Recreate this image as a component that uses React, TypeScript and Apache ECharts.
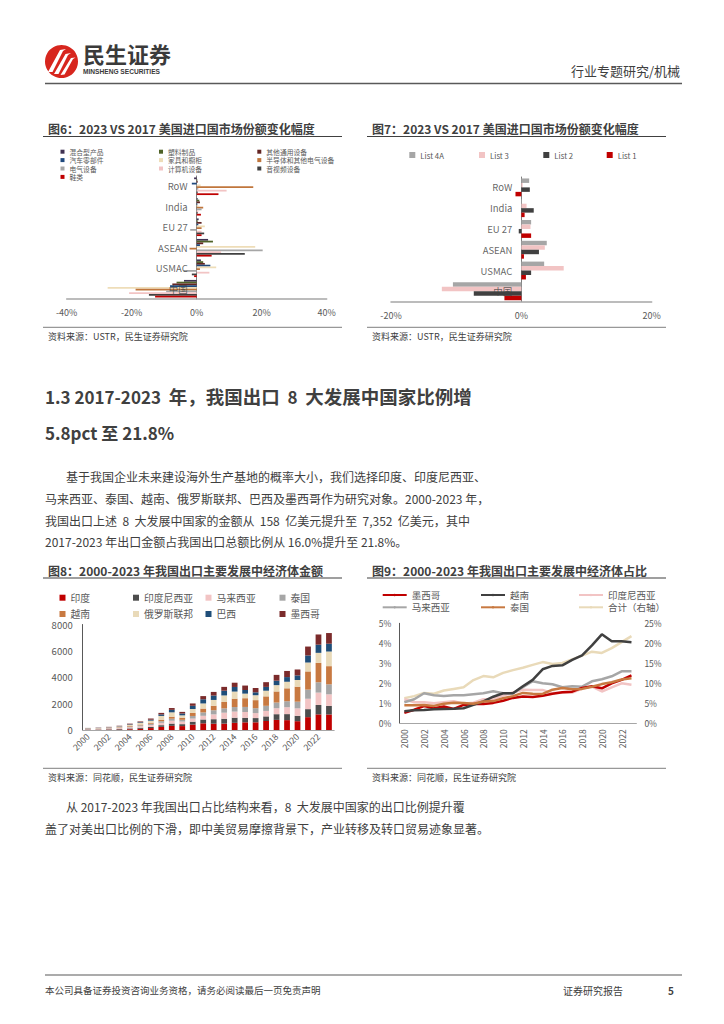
import React, { useEffect, useRef } from "react";
import * as echarts from "echarts";

const FONT = '"Noto Sans CJK SC", "Noto Sans", sans-serif';
const LATIN = '"Liberation Sans", Arial, sans-serif';

// ---------- Figure 6 ----------
const fig6Categories = ["RoW", "India", "EU 27", "ASEAN", "USMAC", "中国"];
const fig6Names = ["混合型产品", "塑料制品", "其他通用设备", "汽车零部件", "家具和橱柜", "半导体和其他电气设备", "电气设备", "计算机设备", "音视频设备", "鞋类"];
const fig6Colors = ["#3F3151", "#4F6228", "#632523", "#1F497D", "#EEDDB8", "#C0763C", "#A6A6A6", "#F2C4C4", "#404040", "#C00000"];
const mixedProducts = [-0.8, 0.3, 0.6, 3.5, 1.3, -3.9];
const plastics = [0.2, 0.8, 0.3, 5.0, 2.0, -6.2];
const otherMachinery = [0.3, 1.0, 1.5, 2.0, 2.5, -7.5];
const autoParts = [-1.5, 0.2, 0.5, 1.0, 4.2, -8.2];
const furniture = [1.2, 0.5, 2.5, 18.0, 6.0, -27.4];
const semiconductors = [17.4, 2.0, 1.5, -2.2, 1.0, -18.8];
const electricalEquip = [0.5, 1.5, -2.0, 20.3, -4.0, -9.4];
const computers = [9.2, 0.5, 1.5, 7.5, 3.9, -20.8];
const audioVideo = [0.3, 0.3, 2.3, 14.8, -1.5, -14.7];
const footwear = [6.7, 1.3, 1.5, 4.6, -0.8, -12.8];
const fig6Values = [mixedProducts, plastics, otherMachinery, autoParts, furniture, semiconductors, electricalEquip, computers, audioVideo, footwear];
const fig6Ticks = [-40, 40, 20];

// ---------- Figure 7 ----------
const fig7Names = ["List 4A", "List 3", "List 2", "List 1"];
const fig7Colors = ["#A6A6A6", "#F2C4C4", "#404040", "#C00000"];
const list4A = [1.2, 0.1, 1.5, 3.9, 3.5, -10.5];
const list3 = [0.2, 0.8, 1.4, 3.6, 6.5, -12.2];
const list2 = [1.3, 1.9, -0.4, 2.7, 1.5, -7.3];
const list1 = [-0.9, 0.5, 1.5, 0.4, 0.7, -2.6];
const fig7Values = [list4A, list3, list2, list1];
const fig7Ticks = [-20, 20, 20];

// ---------- Figure 8 ----------
const years = ["2000", "2001", "2002", "2003", "2004", "2005", "2006", "2007", "2008", "2009", "2010", "2011", "2012", "2013", "2014", "2015", "2016", "2017", "2018", "2019", "2020", "2021", "2022", "2023"];
const fig8Names = ["印度", "印度尼西亚", "马来西亚", "泰国", "越南", "俄罗斯联邦", "巴西", "墨西哥"];
const fig8Colors = ["#C00000", "#4D4D4D", "#F2C4C4", "#A6A6A6", "#C87941", "#E9DAB9", "#1F4E79", "#7B2B2B"];
const indiaExport = [16, 19, 27, 33, 59, 89, 146, 240, 315, 297, 409, 505, 477, 484, 542, 582, 584, 683, 767, 748, 668, 975, 1185, 1178];
const indonesiaExport = [31, 28, 34, 45, 63, 84, 95, 126, 172, 147, 220, 292, 343, 369, 391, 344, 321, 348, 432, 457, 410, 607, 714, 652];
const malaysiaExport = [26, 32, 49, 61, 81, 106, 136, 177, 214, 196, 238, 279, 365, 459, 464, 440, 376, 417, 454, 521, 564, 787, 937, 874];
const thailandExport = [22, 24, 30, 38, 58, 78, 98, 120, 156, 133, 197, 257, 312, 327, 343, 383, 372, 386, 429, 456, 505, 693, 784, 757];
const vietnamExport = [15, 18, 20, 32, 43, 56, 75, 119, 152, 163, 231, 291, 342, 486, 637, 661, 611, 716, 840, 979, 1138, 1379, 1470, 1380];
const russiaExport = [22, 27, 35, 60, 91, 132, 158, 285, 330, 175, 296, 389, 440, 496, 537, 348, 373, 429, 480, 497, 505, 676, 761, 1110];
const brazilExport = [12, 14, 15, 21, 37, 48, 74, 114, 188, 141, 244, 318, 334, 359, 349, 274, 220, 289, 337, 355, 349, 536, 619, 591];
const mexicoExport = [13, 18, 28, 33, 50, 55, 89, 117, 139, 122, 179, 240, 275, 290, 323, 338, 326, 359, 441, 464, 450, 675, 774, 810];
const fig8Values = [indiaExport, indonesiaExport, malaysiaExport, thailandExport, vietnamExport, russiaExport, brazilExport, mexicoExport];
const fig8Ticks = [0, 8000, 2000];

// ---------- Figure 9 ----------
const fig9Names = ["墨西哥", "越南", "印度尼西亚", "马来西亚", "泰国", "合计（右轴）"];
const fig9Colors = ["#C00000", "#404040", "#F2C4C4", "#A6A6A6", "#C87941", "#E9DAB9"];
const mexicoShare = [0.52, 0.68, 0.86, 0.75, 0.84, 0.72, 0.92, 0.96, 0.97, 1.02, 1.13, 1.27, 1.34, 1.31, 1.38, 1.48, 1.55, 1.58, 1.77, 1.85, 1.75, 2.0, 2.17, 2.4];
const vietnamShare = [0.6, 0.65, 0.67, 0.7, 0.72, 0.73, 0.75, 0.92, 1.1, 1.33, 1.5, 1.5, 1.85, 2.17, 2.7, 2.87, 2.9, 3.17, 3.4, 3.9, 4.45, 4.1, 4.1, 4.05];
const indonesiaShare = [1.2, 1.05, 1.05, 1.0, 1.05, 1.1, 0.98, 1.03, 1.2, 1.22, 1.39, 1.54, 1.68, 1.66, 1.67, 1.51, 1.53, 1.54, 1.74, 1.83, 1.59, 1.8, 2.0, 1.93];
const malaysiaShare = [1.05, 1.2, 1.5, 1.4, 1.37, 1.4, 1.4, 1.45, 1.5, 1.6, 1.5, 1.5, 1.8, 2.1, 2.0, 1.95, 1.8, 1.85, 1.83, 2.1, 2.2, 2.35, 2.6, 2.6];
const thailandShare = [0.9, 0.9, 0.92, 0.87, 0.98, 1.03, 1.01, 0.98, 1.09, 1.11, 1.25, 1.36, 1.52, 1.48, 1.47, 1.68, 1.77, 1.7, 1.72, 1.83, 1.96, 2.05, 2.19, 2.25];
const totalShare = [6.25, 6.8, 7.6, 7.4, 8.2, 8.6, 9.0, 10.8, 11.8, 11.5, 12.6, 13.3, 13.9, 14.6, 15.3, 14.8, 15.1, 16.0, 16.9, 17.9, 17.6, 18.8, 20.3, 21.8];
const fig9Values = [mexicoShare, vietnamShare, indonesiaShare, malaysiaShare, thailandShare, totalShare];
const fig9LeftTicks = [0, 5, 1];
const fig9RightTicks = [0, 25, 5];

// ---------- Page texts ----------
const headerRight = "行业专题研究/机械";
const fig6Title = "图6：2023 VS 2017 美国进口国市场份额变化幅度";
const fig7Title = "图7：2023 VS 2017 美国进口国市场份额变化幅度";
const fig8Title = "图8：2000-2023 年我国出口主要发展中经济体金额";
const fig9Title = "图9：2000-2023 年我国出口主要发展中经济体占比";
const sourceUSTR = "资料来源：USTR，民生证券研究院";
const sourceTHS = "资料来源：同花顺，民生证券研究院";
const heading1Parts = ["1.3 2017-2023  ", "年，我国出口", "  8  ", "大发展中国家比例增"];
const heading2 = "5.8pct 至 21.8%";
const para1 = [
  "基于我国企业未来建设海外生产基地的概率大小，我们选择印度、印度尼西亚、",
  "马来西亚、泰国、越南、俄罗斯联邦、巴西及墨西哥作为研究对象。2000-2023 年，",
  "我国出口上述  8  大发展中国家的金额从  158  亿美元提升至  7,352  亿美元，其中",
  "2017-2023 年出口金额占我国出口总额比例从 16.0%提升至 21.8%。",
];
const para2 = [
  "从 2017-2023 年我国出口占比结构来看，8  大发展中国家的出口比例提升覆",
  "盖了对美出口比例的下滑，即中美贸易摩擦背景下，产业转移及转口贸易迹象显著。",
];
const footerLeft = "本公司具备证券投资咨询业务资格，请务必阅读最后一页免责声明";
const footerMid = "证券研究报告";
const pageNo = "5";

const TXT = "#404040";

function txt(x: number, y: number, t: string, size: number, extra: any = {}) {
  return {
    type: "text",
    x,
    y,
    style: { text: t, fontSize: size, fontFamily: FONT, fill: TXT, align: "left", verticalAlign: "middle", ...extra },
  };
}
function hline(x1: number, x2: number, y: number, color: string, w: number) {
  return { type: "line", shape: { x1, y1: y, x2, y2: y }, style: { stroke: color, lineWidth: w } };
}

function pageOption(): any {
  const g: any[] = [];
  // logo
  g.push({ type: "circle", shape: { cx: 61.5, cy: 61.5, r: 16.5 }, style: { fill: "#D7261E" } });
  g.push({ type: "polygon", shape: { points: [[48, 72], [52.5, 72], [63, 51], [66, 49], [60, 50]] }, style: { fill: "#fff" } });
  g.push({ type: "polygon", shape: { points: [[54, 74], [58.5, 74], [68, 55], [71, 53], [65.5, 54]] }, style: { fill: "#fff" } });
  g.push({ type: "polygon", shape: { points: [[60.5, 75], [64.5, 74.5], [73, 59], [75.5, 57.5], [71, 58]] }, style: { fill: "#fff" } });
  g.push(txt(83, 53, "民生证券", 22, { fontWeight: "bold", fill: "#3A3A3A" }));
  g.push(txt(83, 71, "MINSHENG SECURITIES", 6.6, { fontWeight: "bold", fill: "#3A3A3A", fontFamily: LATIN }));
  g.push(txt(680, 70, headerRight, 13, { align: "right" }));
  g.push(hline(45, 682, 83.5, "#595959", 1.5));

  // figure titles
  g.push(txt(48, 128, fig6Title, 12, { fontWeight: "bold" }));
  g.push(txt(372, 128, fig7Title, 12, { fontWeight: "bold" }));
  g.push(hline(43, 342, 136.5, "#404040", 1.2));
  g.push(hline(367, 666, 136.5, "#404040", 1.2));
  g.push(hline(43, 342, 327.3, "#7F7F7F", 1));
  g.push(hline(367, 666, 327.3, "#7F7F7F", 1));
  g.push(txt(48, 336.5, sourceUSTR, 9));
  g.push(txt(372, 336.5, sourceUSTR, 9));

  // headings & paragraph
  g.push({
    type: "text",
    x: 45,
    y: 396,
    style: {
      text: `{a|${heading1Parts[0]}}{b|${heading1Parts[1]}}{a|${heading1Parts[2]}}{b|${heading1Parts[3]}}`,
      fontFamily: FONT,
      fontWeight: "bold",
      fill: TXT,
      verticalAlign: "middle",
      rich: {
        a: { fontSize: 17, fontWeight: "bold", fill: TXT, fontFamily: FONT },
        b: { fontSize: 18.5, fontWeight: "bold", fill: TXT, fontFamily: FONT },
      },
    },
  });
  g.push(txt(45, 432, heading2, 17, { fontWeight: "bold" }));
  const py = [476, 498, 520, 541];
  para1.forEach((s, i) => g.push(txt(i === 0 ? 66 : 45, py[i], s, 12)));

  g.push(txt(48, 570, fig8Title, 12, { fontWeight: "bold" }));
  g.push(txt(372, 570, fig9Title, 12, { fontWeight: "bold" }));
  g.push(hline(43, 342, 578, "#404040", 1.2));
  g.push(hline(367, 666, 578, "#404040", 1.2));
  g.push(hline(43, 342, 768.3, "#7F7F7F", 1));
  g.push(hline(367, 666, 768.3, "#7F7F7F", 1));
  g.push(txt(48, 777.5, sourceTHS, 9));
  g.push(txt(372, 777.5, sourceTHS, 9));

  const p2y = [806, 828];
  para2.forEach((s, i) => g.push(txt(i === 0 ? 66 : 45, p2y[i], s, 12)));

  // footer
  g.push(hline(45, 682, 975, "#595959", 1.2));
  g.push(txt(45, 990, footerLeft, 9.5));
  g.push(txt(563, 990, footerMid, 10));
  g.push(txt(668, 990, pageNo, 10, { fontWeight: "bold" }));

  return { animation: false, graphic: { elements: g } };
}

function legendCol(left: number, top: number, names: string[], size: number, lh: number, gap: number, iw: number, ih: number, extra: any = {}) {
  return {
    orient: "vertical",
    left,
    top,
    data: names,
    itemWidth: iw,
    itemHeight: ih,
    itemGap: gap,
    padding: 0,
    selectedMode: false,
    textStyle: { fontSize: size, lineHeight: lh, color: "#595959", fontFamily: FONT },
    ...extra,
  };
}

// category labels drawn next to the zero line
function zeroLabels(cats: string[]) {
  return {
    type: "scatter",
    data: cats.map((c) => [0, c]),
    symbolSize: 0,
    silent: true,
    z: 5,
    label: {
      show: true,
      position: "left",
      distance: 9,
      formatter: (p: any) => p.value[1],
      fontSize: 9.5,
      color: "#404040",
      fontFamily: FONT,
    },
  };
}

function hbarOption(
  legends: any[],
  grid: any,
  ticks: number[],
  names: string[],
  values: number[][],
  colors: string[]
): any {
  return {
    animation: false,
    textStyle: { fontFamily: FONT },
    legend: legends,
    grid,
    xAxis: {
      type: "value",
      min: ticks[0],
      max: ticks[1],
      interval: ticks[2],
      axisLabel: { formatter: "{value}%", fontSize: 9, color: "#595959", margin: 9 },
      axisLine: { show: true, lineStyle: { color: "#A6A6A6", width: 1.5 } },
      axisTick: { show: false },
      splitLine: { show: false },
    },
    yAxis: {
      type: "category",
      inverse: true,
      data: fig6Categories,
      axisLine: { onZero: true, lineStyle: { color: "#7F7F7F", width: 1 } },
      axisTick: { show: false },
      axisLabel: { show: false },
    },
    series: [
      ...names.map((n, i) => ({
        name: n,
        type: "bar",
        data: values[i],
        itemStyle: { color: colors[i] },
        barGap: "0%",
        barCategoryGap: "14%",
        z: 2,
      })),
      zeroLabels(fig6Categories),
    ],
  };
}

function fig6Option(): any {
  const cols = [
    [fig6Names[0], fig6Names[3], fig6Names[6], fig6Names[9]],
    [fig6Names[1], fig6Names[4], fig6Names[7]],
    [fig6Names[2], fig6Names[5], fig6Names[8]],
  ];
  const lefts = [60.5, 159, 257.3];
  return hbarOption(
    cols.map((c, i) => legendCol(lefts[i], 147.5, c, 6.8, 8.4, 0, 4, 4, { icon: "rect" })),
    { left: 66.7, top: 176, width: 260, height: 123 },
    fig6Ticks,
    fig6Names,
    fig6Values,
    fig6Colors
  );
}

function fig7Option(): any {
  const lefts = [409.3, 479, 543.3, 606.7];
  return hbarOption(
    fig7Names.map((n, i) => legendCol(lefts[i], 150, [n], 7.8, 10, 0, 6, 6, { icon: "rect" })),
    { left: 391, top: 177, width: 260.7, height: 124.7 },
    fig7Ticks,
    fig7Names,
    fig7Values,
    fig7Colors
  );
}

function fig8Option(): any {
  const cols = [
    [fig8Names[0], fig8Names[4]],
    [fig8Names[1], fig8Names[5]],
    [fig8Names[2], fig8Names[6]],
    [fig8Names[3], fig8Names[7]],
  ];
  const lefts = [59.5, 133, 205.5, 279.5];
  return {
    animation: false,
    textStyle: { fontFamily: FONT },
    legend: cols.map((c, i) => legendCol(lefts[i], 591.7, c, 9.8, 12, 4.3, 6, 6, { icon: "rect" })),
    grid: { left: 82.7, top: 624.5, width: 251.5, height: 105.5 },
    xAxis: {
      type: "category",
      data: years,
      axisLabel: { rotate: 45, interval: 1, fontSize: 8.8, color: "#595959", margin: 5 },
      axisLine: { lineStyle: { color: "#A6A6A6", width: 1 } },
      axisTick: { show: false },
    },
    yAxis: {
      type: "value",
      min: fig8Ticks[0],
      max: fig8Ticks[1],
      interval: fig8Ticks[2],
      axisLabel: { fontSize: 9.5, color: "#595959", margin: 10, formatter: (v: number) => String(v) },
      axisLine: { show: true, lineStyle: { color: "#595959", width: 1 } },
      axisTick: { show: false },
      splitLine: { show: false },
    },
    series: fig8Names.map((n, i) => ({
      name: n,
      type: "bar",
      stack: "total",
      data: fig8Values[i],
      itemStyle: { color: fig8Colors[i] },
      barWidth: "55%",
    })),
  };
}

function fig9Option(): any {
  const cols = [
    [fig9Names[0], fig9Names[3]],
    [fig9Names[1], fig9Names[4]],
    [fig9Names[2], fig9Names[5]],
  ];
  const lefts = [381.7, 480, 578];
  return {
    animation: false,
    textStyle: { fontFamily: FONT },
    legend: cols.map((c, i) => legendCol(lefts[i], 589, c, 9.5, 12, 0.3, 24, 3)),
    grid: { left: 399.4, top: 623.3, width: 237, height: 100 },
    xAxis: {
      type: "category",
      data: years,
      axisLabel: { rotate: 90, interval: 1, fontSize: 8.5, color: "#595959", margin: 6 },
      axisLine: { lineStyle: { color: "#A6A6A6", width: 1 } },
      axisTick: { show: false },
    },
    yAxis: [
      {
        type: "value",
        min: fig9LeftTicks[0],
        max: fig9LeftTicks[1],
        interval: fig9LeftTicks[2],
        axisLabel: { formatter: "{value}%", fontSize: 8.5, color: "#595959", margin: 8 },
        axisLine: { show: true, lineStyle: { color: "#595959", width: 1 } },
        axisTick: { show: false },
        splitLine: { show: false },
      },
      {
        type: "value",
        position: "right",
        min: fig9RightTicks[0],
        max: fig9RightTicks[1],
        interval: fig9RightTicks[2],
        axisLabel: { formatter: "{value}%", fontSize: 8.5, color: "#595959", margin: 8 },
        axisLine: { show: false },
        axisTick: { show: false },
        splitLine: { show: false },
      },
    ],
    series: fig9Names.map((n, i) => ({
      name: n,
      type: "line",
      yAxisIndex: i === 5 ? 1 : 0,
      data: fig9Values[i],
      symbol: "none",
      lineStyle: { color: fig9Colors[i], width: 2.5 },
      itemStyle: { color: fig9Colors[i] },
      z: [3, 4, 2, 2, 5, 1][i],
    })),
  };
}

export default function App() {
  const r0 = useRef<HTMLDivElement>(null);
  const r1 = useRef<HTMLDivElement>(null);
  const r2 = useRef<HTMLDivElement>(null);
  const r3 = useRef<HTMLDivElement>(null);
  const r4 = useRef<HTMLDivElement>(null);
  const refs = [r0, r1, r2, r3, r4];

  useEffect(() => {
    const builders = [pageOption, fig6Option, fig7Option, fig8Option, fig9Option];
    const charts = refs.map((r, i) => {
      const c = echarts.init(r.current as HTMLDivElement, undefined, { renderer: "svg" });
      c.setOption(builders[i]());
      return c;
    });
    return () => charts.forEach((c) => c.dispose());
  }, []);

  return (
    <div style={{ position: "absolute", left: 0, top: 0, width: 724, height: 1024, background: "#ffffff", overflow: "hidden" }}>
      {refs.map((r, i) => (
        <div key={i} ref={r} style={{ position: "absolute", left: 0, top: 0, width: 724, height: 1024 }} />
      ))}
    </div>
  );
}
